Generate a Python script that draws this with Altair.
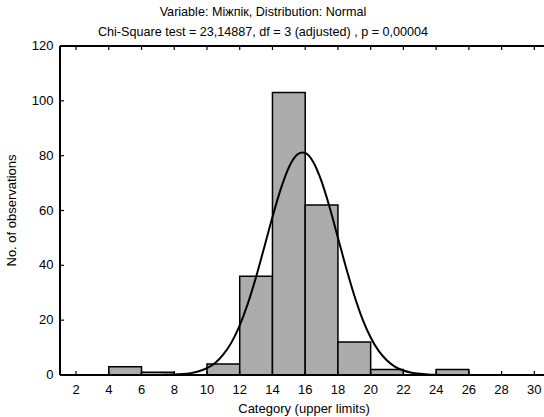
import altair as alt
import pandas as pd

title_line1 = "Variable: Міжпік, Distribution: Normal"
title_line2 = "Chi-Square test = 23,14887, df = 3 (adjusted) , p = 0,00004"
x_title = "Category (upper limits)"
y_title = "No. of observations"

bin_lower = [4, 6, 10, 12, 14, 16, 18, 20, 24]
bin_upper = [6, 8, 12, 14, 16, 18, 20, 22, 26]
counts = [3, 1, 4, 36, 103, 62, 12, 2, 2]

curve_x = [7, 7.5, 8, 8.5, 9, 9.5, 10, 10.5, 11, 11.5, 12, 12.5, 13, 13.5, 14,
           14.5, 15, 15.5, 15.8, 16, 16.5, 17, 17.5, 18, 18.5, 19, 19.5, 20,
           20.5, 21, 21.5, 22, 22.5, 23, 23.5, 24, 24.5, 25]
curve_y = [0.03, 0.07, 0.15, 0.33, 0.68, 1.34, 2.5, 4.4, 7.5, 11.9, 18.1, 26.1,
           35.8, 46.6, 57.6, 67.7, 75.7, 80.3, 81.2, 81.0, 77.6, 70.6, 61.0,
           50.1, 39.1, 29.0, 20.4, 13.7, 8.7, 5.3, 3.0, 1.65, 0.85, 0.42, 0.2,
           0.09, 0.04, 0.015]

x_ticks = list(range(2, 31, 2))
y_ticks = list(range(0, 121, 20))

W, H = 484, 329
FONT = "Liberation Sans"

xs = alt.Scale(domain=[1.02, 30.59], nice=False, zero=False)
ys = alt.Scale(domain=[0, 120], nice=False, zero=True)

bars_df = pd.DataFrame({"lo": bin_lower, "hi": bin_upper, "n": counts,
                        "base": [0] * len(counts)})
curve_df = pd.DataFrame({"x": curve_x, "y": curve_y})
xt_df = pd.DataFrame({"v": x_ticks})
yt_df = pd.DataFrame({"v": y_ticks})
one = pd.DataFrame({"xt": [x_title], "yt": [y_title]})

bars = alt.Chart(bars_df).mark_rect(fill="#acacac", stroke="black", strokeWidth=1.5).encode(
    x=alt.X("lo:Q", scale=xs, axis=None),
    x2=alt.X2("hi:Q"),
    y=alt.Y("n:Q", scale=ys, axis=None),
    y2=alt.Y2("base:Q"),
)

curve = alt.Chart(curve_df).mark_line(color="black", strokeWidth=2, interpolate="monotone").encode(
    x=alt.X("x:Q", scale=xs, axis=None),
    y=alt.Y("y:Q", scale=ys, axis=None),
)

bottom_ticks = alt.Chart(xt_df).mark_rule(color="black", strokeWidth=1.2).encode(
    x=alt.X("v:Q", scale=xs, axis=None), y=alt.value(H), y2=alt.value(H - 4))
top_ticks = alt.Chart(xt_df).mark_rule(color="black", strokeWidth=1.2).encode(
    x=alt.X("v:Q", scale=xs, axis=None), y=alt.value(0), y2=alt.value(4))
left_ticks = alt.Chart(yt_df).mark_rule(color="black", strokeWidth=1.2).encode(
    y=alt.Y("v:Q", scale=ys, axis=None), x=alt.value(0), x2=alt.value(4))

frame_top = alt.Chart(one).mark_rule(color="black", strokeWidth=2).encode(
    x=alt.value(0), x2=alt.value(W), y=alt.value(0))
frame_bottom = alt.Chart(one).mark_rule(color="black", strokeWidth=2).encode(
    x=alt.value(0), x2=alt.value(W), y=alt.value(H))
frame_left = alt.Chart(one).mark_rule(color="black", strokeWidth=2).encode(
    x=alt.value(0), y=alt.value(0), y2=alt.value(H))

x_labels = alt.Chart(xt_df).mark_text(font=FONT, fontSize=13, color="black",
                                      align="center", baseline="alphabetic").encode(
    x=alt.X("v:Q", scale=xs, axis=None), y=alt.value(H + 19), text="v:Q")
y_labels = alt.Chart(yt_df).mark_text(font=FONT, fontSize=13, color="black",
                                      align="right", baseline="middle").encode(
    y=alt.Y("v:Q", scale=ys, axis=None), x=alt.value(-6.5), text="v:Q")
x_title_mark = alt.Chart(one).mark_text(font=FONT, fontSize=13, color="black",
                                        align="center", baseline="alphabetic").encode(
    x=alt.value(244), y=alt.value(H + 37.5), text="xt:N")
y_title_mark = alt.Chart(one).mark_text(font=FONT, fontSize=13, color="black",
                                        align="center", baseline="alphabetic",
                                        angle=270).encode(
    x=alt.value(-44), y=alt.value(H / 2), text="yt:N")

chart = alt.layer(bars, curve, bottom_ticks, top_ticks, left_ticks,
                  frame_top, frame_bottom, frame_left,
                  x_labels, y_labels, x_title_mark, y_title_mark).properties(
    width=W, height=H,
    padding={"left": 60, "top": 46, "right": 0, "bottom": 42},
    autosize="none",
    background="white",
    title=alt.TitleParams(text=[title_line1, title_line2], font=FONT, fontSize=12.6,
                          fontWeight="normal", color="black", anchor="middle",
                          dx=-39, lineHeight=20, offset=1),
).configure_view(strokeWidth=0)

chart.save("out.html", embed_options={"renderer": "svg", "actions": False})
